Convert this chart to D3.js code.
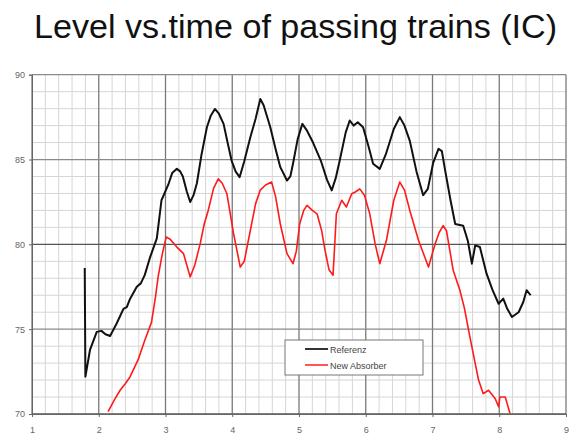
<!DOCTYPE html>
<html>
<head>
<meta charset="utf-8">
<script src="https://cdn.jsdelivr.net/npm/d3@7"></script>
<style>
  body { margin: 0; background: #fff; }
  svg { display: block; }
</style>
</head>
<body>
<script>
// values
const refX = [1.79, 1.80, 1.87, 1.97, 2.04, 2.10, 2.17, 2.27, 2.37, 2.42, 2.47, 2.57, 2.63, 2.69, 2.77, 2.87, 2.94, 3.04, 3.10, 3.17, 3.22, 3.26, 3.32, 3.37, 3.42, 3.47, 3.54, 3.62, 3.68, 3.74, 3.80, 3.87, 3.93, 3.99, 4.05, 4.11, 4.18, 4.27, 4.35, 4.42, 4.47, 4.57, 4.65, 4.72, 4.82, 4.87, 4.91, 4.98, 5.05, 5.12, 5.21, 5.33, 5.42, 5.49, 5.55, 5.61, 5.70, 5.76, 5.82, 5.88, 5.96, 6.04, 6.11, 6.21, 6.30, 6.42, 6.51, 6.58, 6.66, 6.76, 6.86, 6.93, 7.01, 7.09, 7.14, 7.19, 7.27, 7.34, 7.46, 7.53, 7.59, 7.64, 7.71, 7.81, 7.90, 7.99, 8.06, 8.12, 8.19, 8.29, 8.36, 8.41, 8.47];
const refY = [78.6, 72.2, 73.8, 74.84, 74.9, 74.7, 74.6, 75.35, 76.2, 76.3, 76.8, 77.5, 77.7, 78.2, 79.25, 80.35, 82.6, 83.5, 84.2, 84.45, 84.3, 84.0, 83.1, 82.5, 82.9, 83.6, 85.3, 86.9, 87.6, 87.98, 87.7, 87.1, 86.0, 84.94, 84.3, 83.96, 84.9, 86.3, 87.4, 88.57, 88.2, 86.9, 85.6, 84.55, 83.76, 84.0, 84.75, 86.2, 87.1, 86.7, 86.0, 84.9, 83.8, 83.18, 83.9, 84.94, 86.6, 87.3, 87.0, 87.2, 86.9, 85.8, 84.75, 84.45, 85.3, 86.8, 87.5, 87.0, 86.1, 84.3, 82.9, 83.27, 84.8, 85.63, 85.5, 84.35, 82.6, 81.2, 81.1, 80.2, 78.86, 79.94, 79.84, 78.27, 77.3, 76.5, 76.8, 76.2, 75.72, 76.0, 76.6, 77.3, 77.0];

const absX = [2.14, 2.23, 2.32, 2.40, 2.47, 2.59, 2.69, 2.79, 2.85, 2.89, 2.95, 3.01, 3.07, 3.17, 3.27, 3.37, 3.44, 3.52, 3.58, 3.64, 3.72, 3.79, 3.85, 3.92, 4.02, 4.12, 4.18, 4.27, 4.35, 4.42, 4.50, 4.59, 4.65, 4.72, 4.82, 4.91, 4.96, 5.01, 5.07, 5.12, 5.20, 5.27, 5.34, 5.39, 5.45, 5.51, 5.56, 5.64, 5.71, 5.79, 5.85, 5.91, 5.98, 6.06, 6.14, 6.21, 6.31, 6.42, 6.51, 6.58, 6.66, 6.79, 6.94, 7.04, 7.10, 7.16, 7.21, 7.31, 7.41, 7.48, 7.56, 7.69, 7.76, 7.84, 7.94, 7.99, 8.01, 8.09, 8.16];
const absY = [70.14, 70.8, 71.4, 71.8, 72.2, 73.2, 74.35, 75.4, 76.9, 78.1, 79.4, 80.43, 80.3, 79.84, 79.45, 78.08, 78.8, 80.04, 81.2, 82.0, 83.3, 83.86, 83.6, 82.98, 80.63, 78.66, 79.0, 80.8, 82.4, 83.2, 83.5, 83.67, 82.8, 81.2, 79.45, 78.86, 79.6, 81.2, 82.0, 82.3, 82.0, 81.8, 80.8, 79.65, 78.5, 78.18, 81.8, 82.6, 82.2, 82.98, 83.1, 83.27, 82.9, 81.8, 80.04, 78.86, 80.24, 82.6, 83.67, 83.2, 82.0, 80.24, 78.66, 80.04, 80.7, 81.1, 80.8, 78.47, 77.3, 76.2, 74.55, 72.0, 71.2, 71.4, 70.9, 70.43, 71.0, 71.0, 70.04];

const xTicks = [1, 2, 3, 4, 5, 6, 7, 8, 9];
const yTicks = [70, 75, 80, 85, 90];
const seriesNames = ["Referenz", "New Absorber"];

const width = 571, height = 437;

const svg = d3.select('body').append('svg')
    .attr('width', width)
    .attr('height', height);

const x = d3.scaleLinear().domain([1, 9]).range([32, 566]);
const y = d3.scaleLinear().domain([70, 90]).range([414, 74.7]);

// title
svg.append('text')
    .attr('x', 34)
    .attr('y', 38)
    .attr('textLength', 523)
    .attr('lengthAdjust', 'spacingAndGlyphs')
    .style('font-family', 'Liberation Sans, Arial, sans-serif')
    .style('font-size', '34px')
    .style('fill', '#111')
    .text('Level vs.time of passing trains (IC)');

// minor grid
const grid = svg.append('g');
grid.selectAll('.vminor')
    .data(d3.range(1, 9.001, 0.2).filter(v => Math.abs(v - Math.round(v)) > 0.01))
    .enter().append('line')
    .attr('x1', d => x(d)).attr('x2', d => x(d))
    .attr('y1', y(70)).attr('y2', y(90))
    .style('stroke', '#d6d6d6').style('stroke-width', 1);
grid.selectAll('.hminor')
    .data(d3.range(71, 90).filter(v => v % 5 !== 0))
    .enter().append('line')
    .attr('x1', x(1)).attr('x2', x(9))
    .attr('y1', d => y(d)).attr('y2', d => y(d))
    .style('stroke', '#d6d6d6').style('stroke-width', 1);

// major grid
grid.selectAll('.vmajor')
    .data(xTicks)
    .enter().append('line')
    .attr('x1', d => x(d)).attr('x2', d => x(d))
    .attr('y1', y(70)).attr('y2', y(90))
    .style('stroke', '#7a7a7a').style('stroke-width', 1.3);
grid.selectAll('.hmajor')
    .data(yTicks)
    .enter().append('line')
    .attr('x1', x(1)).attr('x2', x(9))
    .attr('y1', d => y(d)).attr('y2', d => y(d))
    .style('stroke', d => d === 80 || d === 70 ? '#555' : '#8a8a8a')
    .style('stroke-width', 1.3);

// axes
const xAxis = svg.append('g')
    .attr('transform', `translate(0,${y(70)})`)
    .call(d3.axisBottom(x).tickValues(xTicks).tickSize(3).tickFormat(d3.format('d')));
const yAxis = svg.append('g')
    .attr('transform', `translate(${x(1)},0)`)
    .call(d3.axisLeft(y).tickValues(yTicks).tickSize(3).tickFormat(d3.format('d')));
[xAxis, yAxis].forEach(a => {
    a.select('.domain').style('stroke', '#666');
    a.selectAll('.tick line').style('stroke', '#666');
    a.selectAll('.tick text')
        .style('font-family', 'Liberation Sans, Arial, sans-serif')
        .style('font-size', '9px')
        .style('fill', '#666');
});
xAxis.selectAll('.tick text').attr('dy', '1.4em');
yAxis.selectAll('.tick text').attr('x', -7);

// series
const line = d3.line().x(d => x(d[0])).y(d => y(d[1]));
svg.append('path')
    .datum(d3.zip(absX, absY))
    .attr('d', line)
    .style('fill', 'none')
    .style('stroke', '#ff1a1a')
    .style('stroke-width', 1.6)
    .style('stroke-linejoin', 'round');
svg.append('path')
    .datum(d3.zip(refX, refY))
    .attr('d', line)
    .style('fill', 'none')
    .style('stroke', '#111')
    .style('stroke-width', 2)
    .style('stroke-linejoin', 'round');

// legend
const legend = svg.append('g').attr('transform', 'translate(285,340)');
legend.append('rect')
    .attr('width', 138).attr('height', 35)
    .style('fill', '#fff').style('stroke', '#777').style('stroke-width', 1);
const colors = ['#333', '#ff5555'];
seriesNames.forEach((name, i) => {
    legend.append('line')
        .attr('x1', 20).attr('x2', 43)
        .attr('y1', 9 + i * 16).attr('y2', 9 + i * 16)
        .style('stroke', colors[i]).style('stroke-width', 2);
    legend.append('text')
        .attr('x', 45).attr('y', 12.5 + i * 16)
        .style('font-family', 'Liberation Sans, Arial, sans-serif')
        .style('font-size', '9px')
        .style('fill', '#444')
        .text(name);
});
</script>
</body>
</html>
